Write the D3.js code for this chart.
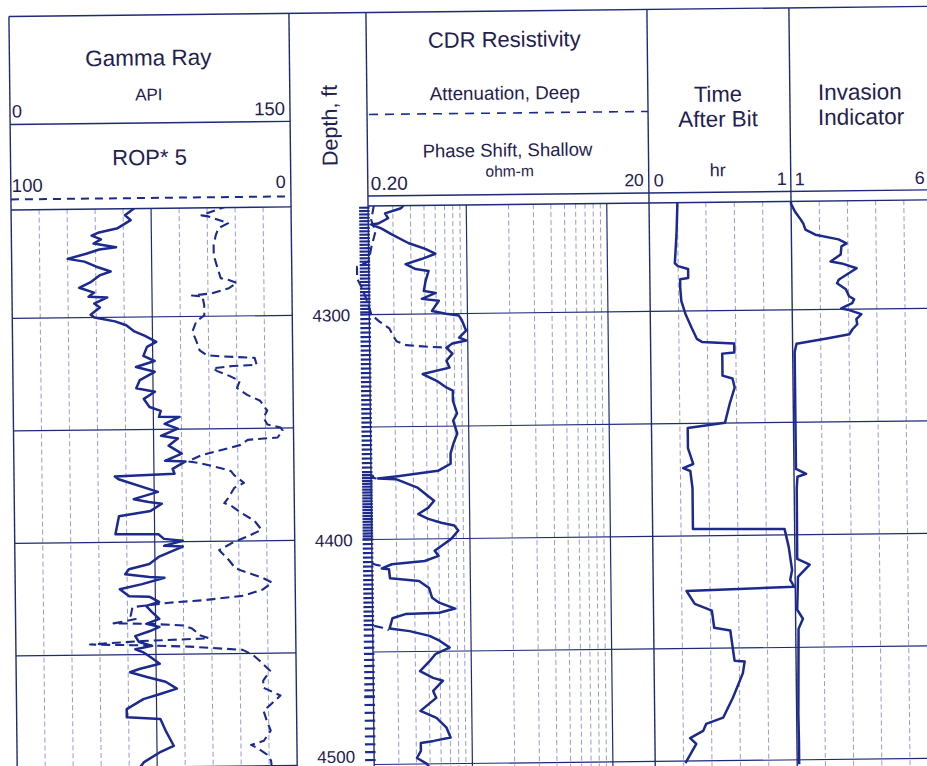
<!DOCTYPE html>
<html lang="en">
<head>
<meta charset="UTF-8" />
<title>Well log: Gamma Ray, ROP, CDR Resistivity, Time After Bit, Invasion</title>
<script src="https://d3js.org/d3.v7.min.js"></script>
<style>
  body { margin: 0; background: #fff; }
  svg { display: block; }
  text { font-family: "Liberation Sans", Arial, sans-serif; fill: #1f2150; }
  .frame { stroke: #1e2a78; stroke-width: 1.4; fill: none; }
  .grid { stroke: #8a92c6; stroke-width: 0.9; stroke-dasharray: 5,3; fill: none; }
  .major { stroke: #1e2a78; stroke-width: 1.2; fill: none; }
  .curve { fill: none; stroke: #1b2a8c; stroke-width: 2.5; stroke-linejoin: round; }
  .curve.dash { stroke-dasharray: 9,5; stroke-width: 2.1; }
  .dtick { stroke: #1b2a8c; stroke-width: 2.2; }
</style>
</head>
<body>
<script>
// ---- data (depth ft, value) ----
const majorDepths = [4300, 4350, 4400, 4450, 4500];
const depthLabels = [4300, 4400, 4500];
const grTicks = [0, 15, 30, 45, 60, 75, 90, 105, 120, 135, 150];
const resTicks = [0.2, 0.3, 0.4, 0.5, 0.6, 0.7, 0.8, 0.9, 1, 2, 3, 4, 5, 6, 7, 8, 9, 10, 20];
const timeTicks = [0, 0.2, 0.4, 0.6, 0.8, 1];
const invTicks = [1, 2, 3, 4, 5, 6];

// depth tick marks: [from, to, step ft]
const depthTickRuns = [
  [4251, 4300, 1.5], [4300, 4370, 2], [4370, 4400, 1.3],
  [4400, 4440, 2], [4440, 4470, 2.7], [4470, 4501, 3.5]
];

const gammaRay = [[4251,67],[4254.7,61],[4256.9,64],[4260.4,57],[4262.2,47],[4263.6,43],[4265.3,48],[4267.1,44],
  [4268.9,56],[4269.8,47],[4271.6,40],[4273.8,30],[4275.1,39],[4277.3,45],[4279.6,53],[4281.3,47],[4284.4,42],
  [4286.7,36],[4288.9,44],[4290.7,41],[4291.1,51],[4293.8,44],[4295.6,47],[4298.7,42],[4300,44],[4301.8,55],
  [4303.6,61],[4306.2,65],[4308.4,71],[4311.1,77],[4313.3,72],[4317.3,70],[4319.6,76],[4322.2,66],[4324.4,76],
  [4328,68],[4331.6,66],[4333.3,76],[4336.4,70],[4340,73],[4341.8,79],[4344.4,78],[4344.6,89],[4347.6,81],
  [4349.8,88],[4352.9,79],[4354.2,88],[4357.3,83],[4360.9,90],[4364,81],[4364.4,92],[4367.6,85],[4369.8,86],
  [4370.7,54],[4372,56],[4377.8,77],[4380.9,64],[4382.2,72],[4383.1,79],[4386.2,73],[4388.4,56],[4396.4,54],
  [4396.6,77],[4398.7,80],[4399.6,90],[4401.8,80],[4402.2,90],[4406.7,77],[4409.8,72],[4412,61],[4414.2,59],
  [4415.6,72],[4416,80],[4418.7,68],[4420.9,56],[4424,61],[4424.4,72],[4426.7,77],[4428.4,70],[4431.1,73],
  [4434.2,77],[4436.4,70],[4437.8,77],[4439.6,72],[4441.8,64],[4444.4,66],[4446.2,73],[4447.6,64],[4448.9,68],
  [4451.1,72],[4454.2,77],[4456.4,66],[4457.8,61],[4460,70],[4462.2,80],[4465.3,86],[4467.6,77],[4469.8,68],
  [4474.2,59],[4477.8,59],[4478.7,77],[4484.4,80],[4490.7,84],[4493.3,77],[4497.8,68],[4502,64]];

const rop = [[4251,22.5],[4255.1,32],[4255.6,29.6],[4258.7,22.5],[4260.9,26],[4264,27],[4268.4,27.8],[4272.9,27.8],
  [4277.3,26.8],[4283.1,25.4],[4284,22.5],[4285.3,19.6],[4287.6,22.5],[4289.8,28.6],[4290.7,35.7],[4291.1,32],
  [4295.1,31.4],[4299.6,31.4],[4302.2,34.3],[4306.7,35.7],[4311.1,34.3],[4315.1,33.2],[4317.3,30.7],[4317.8,26],
  [4318.7,13.6],[4321.8,12.9],[4322.2,21.4],[4323.1,28.6],[4324.4,27],[4326.7,22.5],[4328.9,19],[4332,20],
  [4335.1,16.4],[4337.8,11.8],[4342.2,9.3],[4345.3,10.7],[4348.4,9.3],[4349.8,4.6],[4351.1,3.9],[4354.2,5.7],
  [4355.1,16.4],[4357.3,18.9],[4361.8,33.2],[4364.4,37.8],[4365.3,33.2],[4367.6,26],[4368.9,22.5],[4370.7,21.4],
  [4374.2,17.9],[4376.4,21.4],[4380.9,23.6],[4383.1,25],[4384.4,22.5],[4387.6,18.9],[4391.1,14.3],[4395.1,11.8],
  [4397.8,16.4],[4400.9,22.5],[4404,27],[4408.4,23.6],[4412,21.4],[4413.3,18.9],[4416.4,11.8],[4418.7,8.2],
  [4421.8,11.8],[4424.4,18.9],[4426.2,33.2],[4427.1,45],[4428.9,58.2],[4432.9,58.9],[4434.2,57.1],[4436,65],
  [4436.4,52],[4437.3,40],[4438.7,37],[4441.8,34],[4443.1,31],[4443.5,41],[4444,55],[4445.3,73.5],[4445.8,58],
  [4446.7,38],[4448.4,19],[4450.7,15.4],[4453.3,13],[4457.8,9.3],[4462.2,11.8],[4465.3,11.8],[4468.9,5.7],
  [4472.9,9.3],[4475.6,11.8],[4480,10.7],[4484.4,9.3],[4488.9,11.8],[4490.7,16.4],[4492,14.3],[4495.1,10.7],
  [4497.8,9.3],[4502,9]];

const resDeep = [[4251.5,0.36],[4252.9,0.343],[4255.1,0.264],[4257.3,0.277],[4259.6,0.235],[4260,0.21],[4261.8,0.247],
  [4264.4,0.291],[4268.4,0.384],[4271.1,0.507],[4273.3,0.597],[4275.6,0.475],[4277.8,0.366],[4280,0.431],
  [4280.9,0.533],[4285.3,0.507],[4289.8,0.491],[4290.7,0.597],[4293.3,0.475],[4294.2,0.627],[4298.7,0.56],
  [4300,0.703],[4300.9,0.869],[4303.1,0.913],[4307.6,0.975],[4310.7,0.869],[4312,0.975],[4313.3,0.776],
  [4315.1,0.703],[4317.8,0.776],[4320.9,0.703],[4324,0.739],[4326.7,0.475],[4329.8,0.597],[4332.9,0.703],
  [4334.2,0.776],[4338.7,0.776],[4344.4,0.828],[4347.6,0.776],[4353.3,0.828],[4357.8,0.776],[4362.2,0.739],
  [4366.7,0.739],[4368.4,0.659],[4369.8,0.6],[4372,0.31],[4372.9,0.224],[4373.3,0.3],[4374.2,0.327],
  [4377.3,0.431],[4380.9,0.507],[4383.1,0.56],[4386.2,0.507],[4388.9,0.431],[4391.1,0.507],[4392.9,0.627],
  [4394.2,0.776],[4396.4,0.828],[4400,0.739],[4402.2,0.659],[4405.3,0.56],[4407.6,0.597],[4409.8,0.475],
  [4411.1,0.277],[4412.9,0.235],[4413.3,0.264],[4417.3,0.268],[4418.7,0.431],[4421.8,0.507],[4426.2,0.533],
  [4428.4,0.597],[4431.1,0.776],[4432.9,0.597],[4433.3,0.343],[4435.1,0.277],[4439.6,0.264],[4440.9,0.366],
  [4443.1,0.507],[4445.3,0.597],[4448.4,0.703],[4451.1,0.56],[4454.2,0.507],[4458.7,0.431],[4461.8,0.533],
  [4463.1,0.627],[4467.6,0.533],[4470.7,0.56],[4476.4,0.431],[4479.6,0.56],[4484,0.659],[4488.4,0.703],
  [4489.8,0.533],[4490.7,0.431],[4494.2,0.431],[4497.3,0.404],[4500,0.475],[4502,0.5]];

// shallow curve, null = hidden under the deep curve
const resShallow = [[4251.5,0.22],[4258,0.21],[4263.1,0.225],[4269.8,0.21],[4276.4,0.2],[4278.7,0.165],[4284,0.165],
  [4288.4,0.179],[4294.2,0.194],[4300,0.207],[4303.1,0.235],[4306.2,0.277],[4308.9,0.291],[4312,0.311],
  [4313.8,0.366],[4314.7,0.533],[4315.1,0.739],[4316,null],
  [4371.6,0.21],[4372.4,0.2],[4373.2,0.23],[4374,null],
  [4410.6,0.2],[4411.3,0.215],[4412.2,0.25],[4413,null],
  [4438.4,0.205],[4439.3,0.235],[4440.4,0.26]];

const timeAfterBit = [[4251.5,0.199],[4253.3,0.199],[4265.8,0.191],[4278.7,0.177],[4280,0.199],[4281.3,0.27],[4285.3,0.27],
  [4285.8,0.213],[4289.8,0.213],[4295.6,0.22],[4301.3,0.248],[4307.6,0.291],[4312.4,0.326],[4313.8,0.362],
  [4314.7,0.589],[4318.7,0.589],[4319.1,0.504],[4328.9,0.504],[4330.2,0.574],[4334.2,0.589],[4341.3,0.553],
  [4349.8,0.518],[4352,0.255],[4360.9,0.255],[4368,0.291],[4369.8,0.22],[4371.1,0.27],[4378.7,0.284],
  [4396.9,0.284],[4397.3,0.929],[4405.3,0.957],[4415.6,0.979],[4420,0.965],[4423.1,0.993],[4424.4,0.234],
  [4430.2,0.291],[4433.3,0.411],[4440.9,0.426],[4442.2,0.539],[4455.6,0.567],[4456,0.638],[4461.3,0.624],
  [4472,0.553],[4480.9,0.482],[4483.6,0.362],[4486.7,0.34],[4489.8,0.248],[4492.4,0.291],[4500.9,0.213]];

const invasion = [[4251.5,1.0],[4252.9,1.0],[4256.4,1.14],[4259.6,1.32],[4261.8,1.43],[4264.4,1.5],[4266.7,1.85],
  [4268.9,2.67],[4270.7,2.95],[4272,2.77],[4275.6,2.74],[4278.7,2.38],[4279.6,2.77],[4281.8,3.3],[4284,3.02],
  [4286.7,2.67],[4288.4,2.6],[4291.1,2.91],[4294.2,3.02],[4295.6,3.2],[4297.3,3.13],[4299.6,2.74],[4300.4,3.02],
  [4302.2,3.45],[4304.4,3.27],[4306.7,3.3],[4308.9,3.13],[4311.1,3.02],[4312.9,2.21],[4315.1,1.14],[4318.7,1.07],
  [4355.6,1.07],[4370.7,1.07],[4372.9,1.43],[4374.2,1.12],[4379.6,1.09],[4410.7,1.08],[4413.3,1.52],
  [4418.7,1.1],[4433.3,1.06],[4437.3,1.26],[4441.8,1.1],[4480,1.06],[4492,1.07],[4502,1.07]];

// ---- layout ----
const width = 927, height = 766;
const topY = 11.5, headBottom = 195, dataTop = 205, bottomY = 775;
const trk = { gr: [13, 293], depth: [293, 370], res: [370, 651], time: [651, 793], inv: [793, 934] };

const svg = d3.select("body").append("svg").attr("width", width).attr("height", height);
svg.append("rect").attr("width", width).attr("height", height).attr("fill", "#fff");
// the scanned log is slightly rotated
const g = svg.append("g").attr("transform", "rotate(-0.63 463 383)");

const y = d3.scaleLinear().domain([4250, 4500]).range([201, 763.5]);
const xGR = d3.scaleLinear().domain([0, 150]).range(trk.gr);
const xROP = d3.scaleLinear().domain([100, 0]).range(trk.gr);
const xRes = d3.scaleLog().domain([0.2, 20]).range(trk.res);
const xTime = d3.scaleLinear().domain([0, 1]).range(trk.time);
const xInv = d3.scaleLinear().domain([1, 6]).range(trk.inv);

g.append("clipPath").attr("id", "data").append("rect")
  .attr("x", 0).attr("y", dataTop).attr("width", 960).attr("height", 600);

// vertical grid lines
function vgrid(scale, ticks, isMajor) {
  g.append("g").selectAll("line").data(ticks.filter(t => t !== scale.domain()[0] && t !== scale.domain()[1]))
    .join("line")
    .attr("class", d => isMajor(d) ? "major" : "grid")
    .attr("x1", d => scale(d)).attr("x2", d => scale(d))
    .attr("y1", dataTop).attr("y2", bottomY);
}
vgrid(xGR, grTicks, d => d === 75);
vgrid(xRes, resTicks, d => d === 1 || d === 10);
vgrid(xTime, timeTicks, () => false);
vgrid(xInv, invTicks, () => false);

// horizontal depth lines
[trk.gr, trk.res, [trk.time[0], trk.inv[1]]].forEach(r => {
  g.append("g").selectAll("line").data(majorDepths).join("line")
    .attr("class", "major")
    .attr("x1", r[0]).attr("x2", r[1])
    .attr("y1", d => y(d)).attr("y2", d => y(d));
});

// frame
const frameLines = [
  [trk.gr[0], topY, trk.inv[1], topY],
  [trk.gr[0], 119.5, trk.gr[1], 119.5],
  [trk.gr[0], dataTop, trk.gr[1], dataTop],
  [trk.res[0], headBottom, trk.inv[1], headBottom],
  [trk.res[0], dataTop, trk.inv[1], dataTop]
];
[trk.gr[0], trk.gr[1], trk.res[0], trk.res[1], trk.time[1]].forEach(x => frameLines.push([x, topY, x, bottomY]));
g.append("g").selectAll("line").data(frameLines).join("line")
  .attr("class", "frame")
  .attr("x1", d => d[0]).attr("y1", d => d[1]).attr("x2", d => d[2]).attr("y2", d => d[3]);

// legend dashes in headers
g.append("line").attr("x1", trk.gr[0]).attr("x2", trk.gr[1]).attr("y1", 194.5).attr("y2", 194.5)
  .attr("stroke", "#1b2a8c").attr("stroke-width", 2).attr("stroke-dasharray", "8,6");
g.append("line").attr("x1", trk.res[0] + 2).attr("x2", trk.res[1]).attr("y1", 113.5).attr("y2", 113.5)
  .attr("stroke", "#1b2a8c").attr("stroke-width", 1.6).attr("stroke-dasharray", "9,7");

// header texts
function label(x, yy, txt, size, anchor) {
  return g.append("text").attr("x", x).attr("y", yy).attr("font-size", size)
    .attr("text-anchor", anchor || "middle").text(txt);
}
label(152, 62, "Gamma Ray", 22.5);
label(152, 97, "API", 17);
label(15, 112.5, "0", 18, "start");
label(288, 113, "150", 18.5, "end");
label(152, 161.5, "ROP* 5", 22);
label(14, 187, "100", 18.5, "start");
label(288, 186, "0", 18, "end");

g.append("text").attr("transform", "translate(340,124) rotate(-90)")
  .attr("font-size", 21.5).attr("text-anchor", "middle").text("Depth, ft");

label(508, 47.5, "CDR Resistivity", 22);
label(508, 100, "Attenuation, Deep", 18.8);
label(510, 157, "Phase Shift, Shallow", 18.5);
label(512, 177, "ohm-m", 15.5);
label(373, 189, "0.20", 19, "start");
label(646, 188, "20", 17.5, "end");

label(721, 104.5, "Time", 22);
label(721, 129.5, "After Bit", 22.4);
label(720, 179, "hr", 18);
label(656, 188.5, "0", 18, "start");
label(789, 188.5, "1", 18, "end");

label(863, 104, "Invasion", 22.5);
label(864, 129, "Indicator", 22.5);
label(797, 189, "1", 18, "start");
label(917, 189, "6", 18, "start");

// depth labels
g.append("g").selectAll("text").data(depthLabels).join("text")
  .attr("x", 351).attr("y", d => Math.min(y(d) + 6.5, 761.5))
  .attr("font-size", 17).attr("text-anchor", "end").text(d => d);

// depth tick column
const tickDepths = depthTickRuns.flatMap(r => d3.range(r[0], r[1], r[2]));
g.append("g").attr("clip-path", "url(#data)").selectAll("line").data(tickDepths).join("line")
  .attr("class", "dtick")
  .attr("x1", 361).attr("x2", trk.res[0] + 1.5)
  .attr("y1", d => y(d)).attr("y2", d => y(d));

// curves
const curves = g.append("g").attr("clip-path", "url(#data)");
function curve(data, xs, dashed) {
  curves.append("path").datum(data)
    .attr("class", dashed ? "curve dash" : "curve")
    .attr("d", d3.line().defined(d => d[1] !== null).x(d => xs(d[1])).y(d => y(d[0])));
}
curve(rop, xROP, true);
curve(gammaRay, xGR, false);
curve(resShallow, xRes, true);
curve(resDeep, xRes, false);
curve(timeAfterBit, xTime, false);
curve(invasion, xInv, false);
</script>
</body>
</html>
